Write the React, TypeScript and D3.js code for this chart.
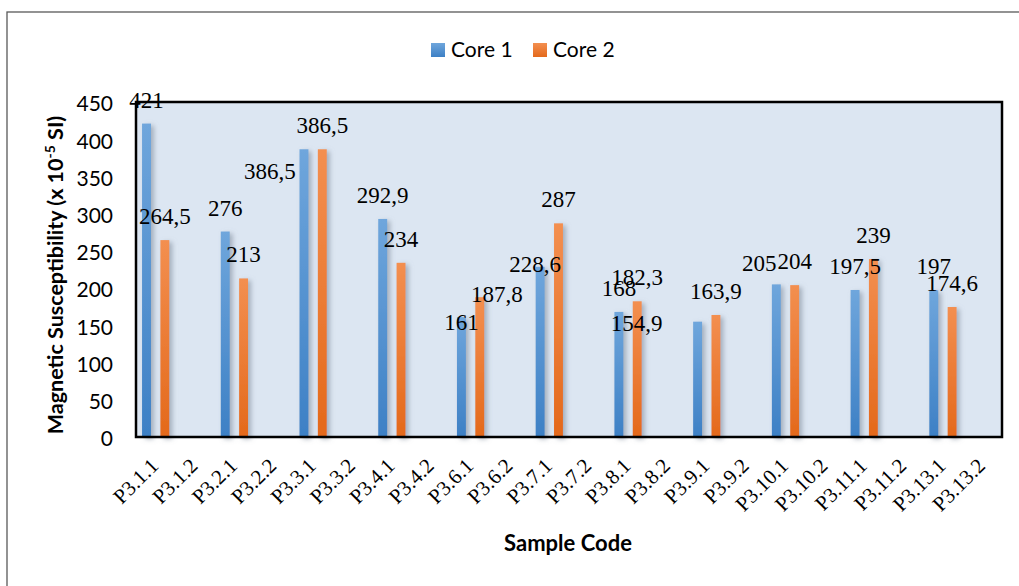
import React from "react";
import * as d3 from "d3";

const categories = [
  "P3.1.1", "P3.1.2", "P3.2.1", "P3.2.2", "P3.3.1", "P3.3.2", "P3.4.1", "P3.4.2",
  "P3.6.1", "P3.6.2", "P3.7.1", "P3.7.2", "P3.8.1", "P3.8.2", "P3.9.1", "P3.9.2",
  "P3.10.1", "P3.10.2", "P3.11.1", "P3.11.2", "P3.13.1", "P3.13.2",
];
const seriesNames = ["Core 1", "Core 2"];
const core1: (number | null)[] = [421, null, 276, null, 386.5, null, 292.9, null, 161, null, 228.6, null, 168, null, 154.9, null, 205, null, 197.5, null, 197, null];
const core2: (number | null)[] = [264.5, null, 213, null, 386.5, null, 234, null, 187.8, null, 287, null, 182.3, null, 163.9, null, 204, null, 239, null, 174.6, null];
const yTicks = [0, 50, 100, 150, 200, 250, 300, 350, 400, 450];

// label placement nudges (as in the original, some labels are shifted)
const labelNudge: Record<string, [number, number]> = {
  "0-4": [-34, 46],
  "0-8": [0, 29],
  "1-8": [17, 21],
  "0-10": [-5, 21],
  "0-14": [-61, 25],
  "0-16": [-17, 3],
};

const W = 1019, H = 586;
const plot = { left: 136, right: 1002, top: 102, bottom: 437 };

export default function App() {
  const x0 = d3.scaleBand<string>().domain(categories).range([plot.left, plot.right]).paddingInner(0).paddingOuter(0);
  const x1 = d3.scaleBand<string>().domain(seriesNames).range([0, x0.bandwidth()]).paddingInner(0.5135).paddingOuter(0.33);
  const y = d3.scaleLinear().domain([0, 450]).range([plot.bottom, plot.top]);
  const series = [core1, core2];
  const gradIds = ["gBlue", "gOrange"];
  const fmt = (v: number) => String(v).replace(".", ",");

  return (
    <svg width={W} height={H} style={{ position: "absolute", left: 0, top: 0, background: "#fff" }}>
      <defs>
        <linearGradient id="gBlue" x1="0" y1="0" x2="0" y2="1">
          <stop offset="0%" stopColor="#6fa6dc" />
          <stop offset="100%" stopColor="#3d80c5" />
        </linearGradient>
        <linearGradient id="gOrange" x1="0" y1="0" x2="0" y2="1">
          <stop offset="0%" stopColor="#f38f50" />
          <stop offset="100%" stopColor="#e4691b" />
        </linearGradient>
        <filter id="shadow" x="-100%" y="-10%" width="300%" height="130%">
          <feDropShadow dx="3" dy="2" stdDeviation="2.5" floodColor="#7f8a99" floodOpacity="0.6" />
        </filter>
      </defs>
      <rect x={7} y={12} width={1040} height={600} fill="#fff" stroke="#595959" strokeWidth={1.3} />
      {/* legend */}
      <g fontFamily="Lato, 'Open Sans', sans-serif" fontSize={21} fill="#000">
        <rect x={431} y={43} width={14} height={14} fill="url(#gBlue)" />
        <text x={451} y={57}>{seriesNames[0]}</text>
        <rect x={533} y={43} width={14} height={14} fill="url(#gOrange)" />
        <text x={553} y={57}>{seriesNames[1]}</text>
      </g>
      {/* plot area */}
      <rect x={plot.left} y={plot.top} width={plot.right - plot.left} height={plot.bottom - plot.top} fill="#dce6f2" />
      {/* bars */}
      {series.map((vals, si) => (
        <g key={si} filter="url(#shadow)">
          {vals.map((v, i) =>
            v == null ? null : (
              <rect
                key={i}
                x={(x0(categories[i]) as number) + (x1(seriesNames[si]) as number)}
                y={y(v)}
                width={x1.bandwidth()}
                height={y(0) - y(v)}
                fill={`url(#${gradIds[si]})`}
              />
            )
          )}
        </g>
      ))}
      <rect x={plot.left} y={plot.top} width={plot.right - plot.left} height={plot.bottom - plot.top} fill="none" stroke="#000" strokeWidth={2.5} />
      {/* data labels */}
      <g fontFamily="'Liberation Serif', 'Times New Roman', serif" fontSize={23} fill="#000" textAnchor="middle">
        {series.map((vals, si) =>
          vals.map((v, i) => {
            if (v == null) return null;
            const cx = (x0(categories[i]) as number) + (x1(seriesNames[si]) as number) + x1.bandwidth() / 2;
            const nd = labelNudge[`${si}-${i}`] || [0, 0];
            return (
              <text key={`${si}-${i}`} x={cx + nd[0]} y={y(v) - 16 + nd[1]}>
                {fmt(v)}
              </text>
            );
          })
        )}
      </g>
      {/* y axis ticks */}
      <g fontFamily="Lato, 'Open Sans', sans-serif" fontSize={21} fill="#000" textAnchor="end">
        {yTicks.map((t) => (
          <text key={t} x={113} y={y(t) + 2} dy="0.35em">
            {t}
          </text>
        ))}
      </g>
      {/* x axis labels */}
      <g fontFamily="'Liberation Serif', 'Times New Roman', serif" fontSize={21} fill="#000" textAnchor="end">
        {categories.map((c) => {
          const cx = (x0(c) as number) + x0.bandwidth() / 2 + 4;
          const cy = 467;
          return (
            <text key={c} x={cx} y={cy} transform={`rotate(-45 ${cx} ${cy})`}>
              {c}
            </text>
          );
        })}
      </g>
      {/* axis titles */}
      <text x={568} y={551} textAnchor="middle" fontFamily="Lato, 'Open Sans', sans-serif" fontWeight="bold" fontSize={22}>
        Sample Code
      </text>
      <text
        transform={`translate(63 275) rotate(-90)`}
        textAnchor="middle"
        fontFamily="Lato, 'Open Sans', sans-serif"
        fontWeight="bold"
        fontSize={21.5}
      >
        Magnetic Susceptibility (x 10<tspan dy={-8} fontSize={14}>-5</tspan>
        <tspan dy={8}> SI)</tspan>
      </text>
    </svg>
  );
}
